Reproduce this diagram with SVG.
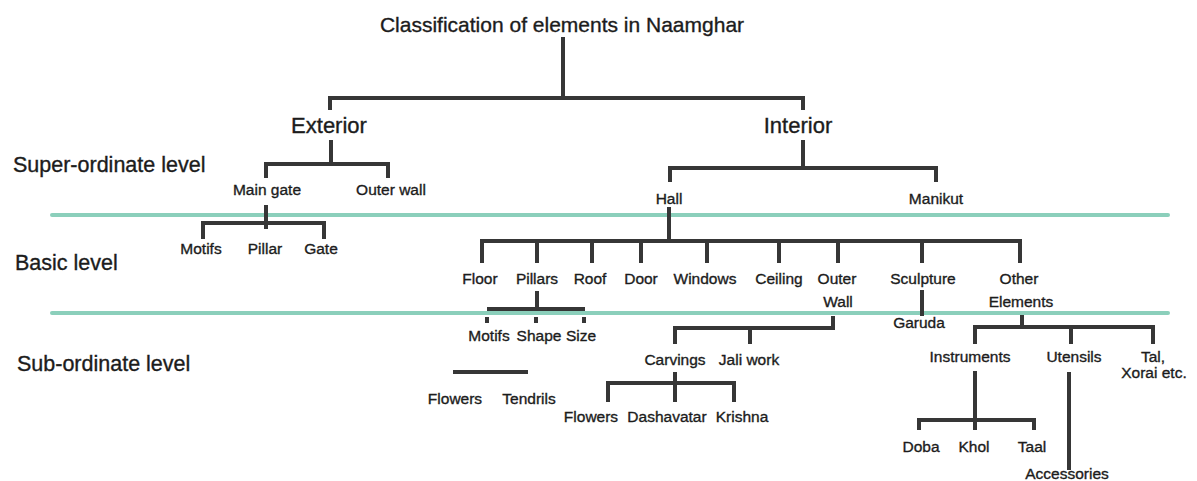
<svg xmlns="http://www.w3.org/2000/svg" width="1197" height="481" viewBox="0 0 1197 481">
<style>
text{font-family:"Liberation Sans",Arial,sans-serif;fill:#1c1c1c;stroke:#1c1c1c;stroke-width:0.35;text-anchor:middle}
.t{font-size:21px}
.h{font-size:22px}
.lv{font-size:21.5px;text-anchor:start}
.s{font-size:15.5px}
.c{fill:none;stroke:#363636;stroke-width:4;stroke-linejoin:miter;stroke-linecap:butt}
.band{stroke:#7fcab4;stroke-width:4;stroke-linecap:round;opacity:0.9}
</style>
<rect width="1197" height="481" fill="#ffffff"/>
<g id="bands">
<line class="band" x1="52" y1="215" x2="1168" y2="215"/>
<line class="band" x1="52" y1="313" x2="1168" y2="313"/>
</g>
<g id="levels">
<text class="lv" x="13" y="172">Super-ordinate level</text>
<text class="lv" x="15" y="270">Basic level</text>
<text class="lv" x="17" y="371">Sub-ordinate level</text>
</g>
<g id="connectors">
<path class="c" d="M563,37 V98 M330,110 V98 H803 V110"/>
<path class="c" d="M331,140 V164 M266,178 V164 H388 V178"/>
<path class="c" d="M803,140 V168 M670,182 V168 H936 V182"/>
<path class="c" d="M266,205 V229 M203,239 V223 H324 V239"/>
<path class="c" d="M669,207 V241 M482,263 V241 H1020 V263 M537,241 V263 M592,241 V263 M641,241 V263 M707,241 V263 M779,241 V263 M838,241 V263 M922,241 V263"/>
<path class="c" d="M537,291 V309 M487,309 H585"/>
<path class="c" d="M487,317 V323 M536,317 V323 M584,317 V323"/>
<path class="c" d="M922,290 V316"/>
<path class="c" d="M833,316 V328 H675 V344 M750,328 V344"/>
<path class="c" d="M675,372 V402 M608,402 V383 H734 V402"/>
<path class="c" d="M453,372 H528"/>
<path class="c" d="M1022,315 V327 M975,344 V327 H1153 V344 M1071,327 V344"/>
<path class="c" d="M975,371 V430 M919,430 V420 H1034 V430"/>
<path class="c" d="M1069,372 V470"/>
</g>
<g id="n-title"><text class="t" x="562" y="32">Classification of elements in Naamghar</text></g>
<g id="n-exterior"><text class="h" x="329" y="133">Exterior</text></g>
<g id="n-interior"><text class="h" x="798" y="133">Interior</text></g>
<g id="n-maingate"><text class="s" x="267" y="195">Main gate</text></g>
<g id="n-outerwall-ext"><text class="s" x="391" y="195">Outer wall</text></g>
<g id="n-hall"><text class="s" x="669" y="204">Hall</text></g>
<g id="n-manikut"><text class="s" x="936" y="204">Manikut</text></g>
<g id="n-motifs-gate"><text class="s" x="201" y="254">Motifs</text></g>
<g id="n-pillar"><text class="s" x="265" y="254">Pillar</text></g>
<g id="n-gate"><text class="s" x="321" y="254">Gate</text></g>
<g id="n-floor"><text class="s" x="480" y="284">Floor</text></g>
<g id="n-pillars"><text class="s" x="537" y="284">Pillars</text></g>
<g id="n-roof"><text class="s" x="590" y="284">Roof</text></g>
<g id="n-door"><text class="s" x="641" y="284">Door</text></g>
<g id="n-windows"><text class="s" x="705" y="284">Windows</text></g>
<g id="n-ceiling"><text class="s" x="779" y="284">Ceiling</text></g>
<g id="n-outerwall"><text class="s" x="837" y="284">Outer</text><text class="s" x="838" y="307">Wall</text></g>
<g id="n-sculpture"><text class="s" x="923" y="284">Sculpture</text></g>
<g id="n-other"><text class="s" x="1019" y="284">Other</text><text class="s" x="1021" y="307">Elements</text></g>
<g id="n-motifs"><text class="s" x="489" y="341">Motifs</text></g>
<g id="n-shape"><text class="s" x="539" y="341">Shape</text></g>
<g id="n-size"><text class="s" x="581" y="341">Size</text></g>
<g id="n-garuda"><text class="s" x="919" y="328">Garuda</text></g>
<g id="n-carvings"><text class="s" x="675" y="365">Carvings</text></g>
<g id="n-jali"><text class="s" x="749" y="365">Jali work</text></g>
<g id="n-instruments"><text class="s" x="970" y="362">Instruments</text></g>
<g id="n-utensils"><text class="s" x="1074" y="362">Utensils</text></g>
<g id="n-tal"><text class="s" x="1153" y="362">Tal,</text><text class="s" x="1154" y="378">Xorai etc.</text></g>
<g id="n-flowers1"><text class="s" x="455" y="404">Flowers</text></g>
<g id="n-tendrils"><text class="s" x="529" y="404">Tendrils</text></g>
<g id="n-flowers2"><text class="s" x="591" y="422">Flowers</text></g>
<g id="n-dashavatar"><text class="s" x="667" y="422">Dashavatar</text></g>
<g id="n-krishna"><text class="s" x="742" y="422">Krishna</text></g>
<g id="n-doba"><text class="s" x="921" y="452">Doba</text></g>
<g id="n-khol"><text class="s" x="974" y="452">Khol</text></g>
<g id="n-taal"><text class="s" x="1032" y="452">Taal</text></g>
<g id="n-accessories"><text class="s" x="1067" y="479">Accessories</text></g>
</svg>
